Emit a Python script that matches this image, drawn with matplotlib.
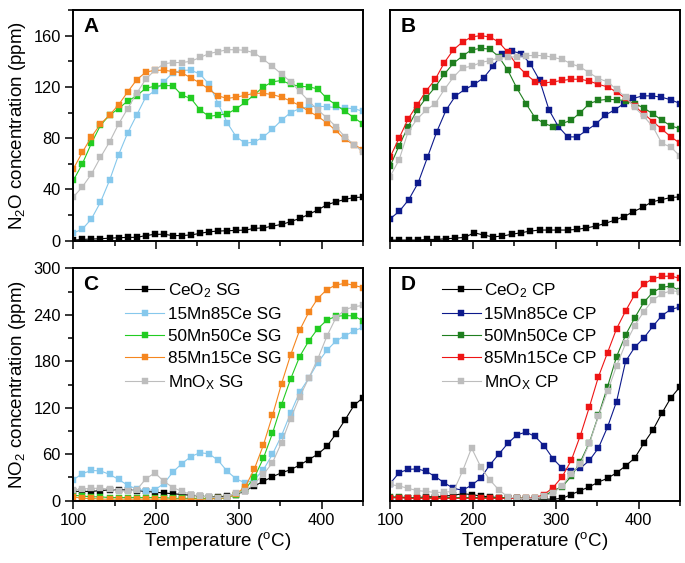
import numpy as np
import matplotlib
matplotlib.use("Agg")
import matplotlib.pyplot as plt
from matplotlib.ticker import MultipleLocator

plt.rcParams['font.family'] = ['Liberation Sans', 'DejaVu Sans']
plt.rcParams['mathtext.fontset'] = 'custom'
plt.rcParams['mathtext.rm'] = 'Liberation Sans'
plt.rcParams['mathtext.it'] = 'Liberation Sans:italic'
plt.rcParams['mathtext.bf'] = 'Liberation Sans:bold'

# temperature grids (degC)
T33 = np.linspace(100, 450, 33)
T32 = np.linspace(100, 450, 32)

# ---------------- Panel A: N2O, SG catalysts ----------------
A_ceo2 = [0.5, 1, 1.3, 1.5, 2, 2.3, 2.6, 2.6, 4, 5, 5, 4, 4, 4.5, 5.7, 7, 7.5, 7.8, 8, 8.3,
          9.6, 10, 11.4, 12.7, 14.8, 17.4, 20.5, 24, 28, 30.3, 32.2, 33.7, 34]
A_15mn = [6, 9, 17, 30, 47, 67, 84, 98, 112, 117, 124, 131, 133, 133, 130, 122, 107, 92, 81, 76,
          77, 81, 87, 94, 100, 103, 104.5, 105, 104.5, 104, 103.5, 103, 101]
A_50mn = [47, 60, 76, 90, 98, 103, 109, 113, 119, 120.5, 121, 121, 113.5, 111, 102, 97, 98, 99,
          103, 108, 114, 120, 124, 125, 122, 120.5, 120, 118.5, 111, 106, 101, 96, 91]
A_85mn = [56, 69, 81, 91, 98, 106, 116, 125.5, 131.5, 133, 133, 132, 131, 127, 123, 118, 113, 111,
          112, 113.5, 115, 115, 114, 112, 109, 105.5, 101, 97, 92, 86, 79, 75, 71]
A_mnox = [34, 42, 52, 65, 77, 91, 103, 115, 126, 133, 138, 139, 139, 140, 143, 146, 147.5, 149,
          149, 148.5, 146.5, 141.5, 136, 130, 124, 116.5, 109, 102, 96, 89, 81, 75, 69]

# ---------------- Panel B: N2O, CP catalysts ----------------
B_ceo2 = [0.5, 0.5, 0.5, 0.5, 1, 1, 1.5, 2, 2.6, 6.2, 4.4, 3, 3.6, 5, 6.2, 7.5, 8.3, 8.3, 8.3,
          8.3, 8.8, 10, 11.4, 13.5, 16, 18.7, 22.6, 26, 30.3, 32, 33.7, 34.2]
B_15mn = [17, 23, 32, 45, 65, 85, 102, 113, 118, 122, 127, 136, 146, 148, 146, 138, 125, 102, 89,
          81, 81, 86, 91, 98, 102, 107, 111, 113, 113, 112, 110, 107]
B_50mn = [58, 74, 89, 102, 111.5, 120, 130, 138.5, 144, 149, 150, 149.6, 143.6, 133, 119, 107,
          96, 91.5, 89, 91.5, 94, 100, 107, 109.5, 110.3, 110, 109.3, 107, 103.5, 99, 94, 89.5, 87.5]
B_85mn = [65, 80, 95, 106, 117, 126, 139, 149, 155, 159, 160, 159, 155, 147, 137, 130, 124, 123,
          124, 125, 126, 126, 124.5, 122, 120, 116, 111, 105, 99, 93, 87, 81, 76]
B_mnox = [50, 63, 85, 95, 102, 107, 118, 127.6, 135, 136, 139, 140.5, 142.6, 143, 143.6, 144.4,
          144.5, 144.4, 143, 141.5, 138, 135.5, 131, 126.5, 124, 118, 112, 104, 97, 89, 76, 73, 66]

# ---------------- Panel C: NO2, SG catalysts ----------------
C_ceo2 = [12, 12, 12, 13, 14, 14, 14, 13, 12, 11, 10, 9, 8, 7, 6, 5, 5, 6, 8, 13, 19, 25, 31, 36,
          40, 46, 53, 60, 70, 86, 104, 123, 133]
C_15mn = [27, 35, 39, 38.5, 34, 27.5, 20, 15, 13, 14, 22, 37, 48, 57, 62, 60.5, 52, 38, 28, 23, 27,
          40, 60, 84, 113, 140, 158, 178, 194, 206, 213, 219, 224]
C_50mn = [7, 6, 5, 5, 4, 4, 4, 4, 4, 4, 4, 3, 3, 3, 3, 3, 3, 4, 8, 15, 30, 55, 87, 124, 157, 186,
          206, 222, 233, 238, 239, 238.5, 232]
C_85mn = [5, 3, 3, 2, 2, 2, 2, 2, 2, 2, 2, 2, 2, 2, 2, 2, 3, 4, 9, 18, 41, 72, 110, 151, 188, 220,
          243, 261, 272.5, 278.5, 280.5, 278, 275]
C_mnox = [14, 15, 16, 16, 15, 13, 12, 14, 28, 36, 25, 17, 12, 8, 6, 5, 4, 5, 10, 12.5, 22, 34, 49,
          75, 106, 134, 158, 183, 212, 236, 246.5, 250.5, 252]

# ---------------- Panel D: NO2, CP catalysts ----------------
D_ceo2 = [4, 4, 4, 4, 5, 5, 6, 7, 9, 8, 6, 5, 4, 3, 3, 2, 2, 2, 2, 3, 8, 13, 18, 24, 29, 36, 45,
          55, 74, 91, 113, 133, 147]
D_15mn = [22, 36, 40.5, 41, 38, 31, 23, 16, 13.5, 20, 29, 46, 60, 74, 85, 88.5, 83, 71, 54, 42,
          38.7, 42, 52, 68, 95, 128, 180, 198, 210, 225, 239, 247, 250]
D_50mn = [5, 5, 4, 4, 4, 4, 4, 4, 4, 4, 4, 4, 4, 4, 4, 3, 3, 6, 13, 18, 31.5, 50, 75, 110, 147,
          186, 214, 236, 256, 269, 275.5, 277, 271]
D_85mn = [4, 4, 3, 3, 3, 3, 3, 3, 3, 3, 3, 3, 3, 3, 3, 3, 4, 8, 17, 31, 52, 84, 121, 160, 191, 222,
          245, 266, 279.5, 286.5, 289.5, 290, 287]
D_mnox = [21, 19, 16, 13, 12, 10.5, 11, 12, 38, 68, 44, 27, 14, 5, 3, 3, 3, 6, 10, 19, 35, 47, 74,
          109, 141, 174, 203, 226, 244, 259, 267, 271, 270]

labels_SG = ['CeO$_2$ SG', '15Mn85Ce SG', '50Mn50Ce SG', '85Mn15Ce SG', 'MnO$_\\mathrm{X}$ SG']
labels_CP = ['CeO$_2$ CP', '15Mn85Ce CP', '50Mn50Ce CP', '85Mn15Ce CP', 'MnO$_\\mathrm{X}$ CP']
colors_SG = ['#000000', '#86C8EC', '#22CC22', '#F5861F', '#BDBDBD']
colors_CP = ['#000000', '#0D1A8C', '#1F7F1F', '#EE1515', '#BDBDBD']

W, H = 685, 563
fig = plt.figure(figsize=(W / 100, H / 100), dpi=100)


def make_ax(x0, y0, x1, y1):
    return fig.add_axes([x0 / W, 1 - y1 / H, (x1 - x0) / W, (y1 - y0) / H])


axA = make_ax(73.3, 10, 363, 240.7)
axB = make_ax(390, 10, 680, 240.7)
axC = make_ax(73.3, 268.3, 363, 500.7)
axD = make_ax(390, 268.3, 680, 500.7)


def draw(ax, xs_list, ys_list, colors, labels):
    for xs, ys, c, lab in zip(xs_list, ys_list, colors, labels):
        ax.plot(xs, ys, '-', color=c, lw=0.8, marker='s', ms=4.1, mec=c, mew=0.3, label=lab)


draw(axA, [T33] * 5, [A_ceo2, A_15mn, A_50mn, A_85mn, A_mnox], colors_SG, labels_SG)
draw(axB, [T32, T32, T33, T33, T33], [B_ceo2, B_15mn, B_50mn, B_85mn, B_mnox], colors_CP, labels_CP)
draw(axC, [T33] * 5, [C_ceo2, C_15mn, C_50mn, C_85mn, C_mnox], colors_SG, labels_SG)
draw(axD, [T33] * 5, [D_ceo2, D_15mn, D_50mn, D_85mn, D_mnox], colors_CP, labels_CP)

for ax in (axA, axB, axC, axD):
    ax.set_xlim(100, 450)
    ax.xaxis.set_major_locator(MultipleLocator(100))
    ax.xaxis.set_minor_locator(MultipleLocator(50))
    for s in ax.spines.values():
        s.set_linewidth(1.4)
    ax.tick_params(which='both', direction='out', width=1.1, labelsize=11.8)
    ax.tick_params(which='major', length=5.5)
    ax.tick_params(which='minor', length=3.5)
    ax.tick_params(top=False, right=False)

for ax in (axA, axB):
    ax.set_ylim(0, 180)
    ax.yaxis.set_major_locator(MultipleLocator(40))
    ax.yaxis.set_minor_locator(MultipleLocator(20))
    ax.tick_params(labelbottom=False)
for ax in (axC, axD):
    ax.set_ylim(0, 300)
    ax.yaxis.set_major_locator(MultipleLocator(60))
    ax.yaxis.set_minor_locator(MultipleLocator(30))
    ax.set_xlabel('Temperature ($^{\\mathrm{o}}$C)', fontsize=13.5, labelpad=1)
for ax in (axB, axD):
    ax.tick_params(axis='y', which='both', left=False, labelleft=False)

axA.set_ylabel('N$_2$O concentration (ppm)', fontsize=13.5, labelpad=4)
axC.set_ylabel('NO$_2$ concentration (ppm)', fontsize=13.5, labelpad=4)

for ax, letter in zip((axA, axB, axC, axD), 'ABCD'):
    ax.text(0.035, 0.97, letter, transform=ax.transAxes, fontsize=15, fontweight='bold',
            va='top', ha='left')

for ax in (axC, axD):
    ax.legend(loc='upper left', bbox_to_anchor=(0.155, 0.975), frameon=False, fontsize=12.3,
              handlelength=2.3, handletextpad=0.2, labelspacing=0.42, borderaxespad=0)

fig.savefig('out.png', dpi=100)
